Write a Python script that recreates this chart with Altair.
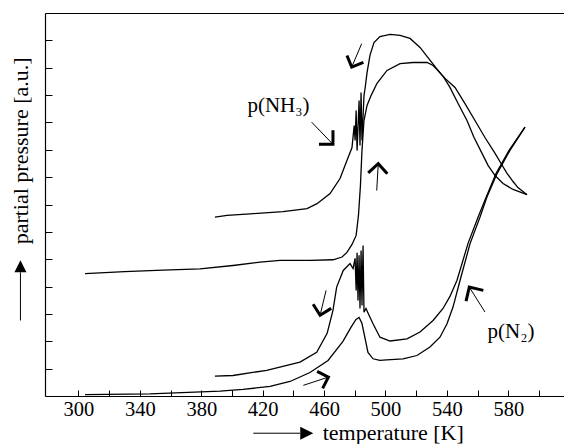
import altair as alt
import pandas as pd

# ---- data (temperature in K, partial pressure in a.u.) ----
nh3_heat_T = [304.3, 330.0, 355.0, 379.2, 400.7, 418.3, 431.3, 450.8, 465.8, 471.7, 474.9, 478.2,
              480.9, 482.4, 483.7, 484.7, 486.0, 488.0, 490.6, 494.5, 501.0, 509.5, 517.9, 527.1,
              531.0, 534.2, 538.8, 545.3, 551.8, 558.3, 564.8, 571.4, 575.3, 579.2, 583.1, 586.3, 592.2]
nh3_heat_p = [4.47, 4.55, 4.60, 4.65, 4.77, 4.89, 4.96, 4.96, 4.98, 5.08, 5.25, 5.54,
              5.87, 6.60, 7.70, 8.98, 10.07, 10.62, 10.98, 11.43, 11.90, 12.15, 12.19, 12.19,
              12.08, 11.90, 11.61, 11.28, 10.69, 10.07, 9.45, 8.87, 8.50, 8.14, 7.84, 7.62, 7.36]

nh3_cool_T = [592.2, 583.1, 576.6, 571.4, 566.8, 562.9, 557.7, 553.1, 547.3, 542.0, 538.1, 534.2,
              527.7, 522.5, 516.0, 509.5, 503.0, 496.4, 492.5, 489.9, 488.0, 486.7, 486.0, 484.7,
              484.1, 483.4, 482.8, 481.5, 480.9, 480.2, 479.6, 478.2, 474.9, 470.4, 463.9, 455.4,
              448.9, 433.2, 411.8, 396.8, 388.9]
nh3_cool_p = [7.36, 7.55, 7.77, 8.06, 8.43, 8.87, 9.45, 10.07, 10.69, 11.28, 11.64, 11.90,
              12.37, 12.74, 13.07, 13.18, 13.22, 13.14, 12.92, 12.45, 11.82, 11.24, 10.98, 9.34,
              11.09, 9.16, 10.80, 8.97, 10.44, 9.34, 9.89, 9.08, 8.61, 7.95, 7.40, 7.03,
              6.85, 6.74, 6.66, 6.60, 6.54]

n2_heat_T = [304.3, 346.6, 392.2, 407.2, 424.8, 437.8, 450.8, 462.6, 472.3, 477.5, 480.8, 482.8,
             484.7, 486.7, 488.6, 491.9, 496.4, 500.8, 511.4, 520.5, 529.0, 535.5, 540.1, 544.0,
             548.6, 555.1, 561.6, 566.1, 572.7, 581.1, 590.9]
n2_heat_p = [0.05, 0.08, 0.18, 0.24, 0.35, 0.53, 0.86, 1.30, 2.00, 2.51, 2.80, 2.87,
             2.65, 2.11, 1.59, 1.36, 1.30, 1.32, 1.36, 1.48, 1.79, 2.15, 2.64, 3.25,
             4.23, 5.57, 6.54, 7.27, 8.13, 8.98, 9.83]

n2_cool_T = [590.9, 580.5, 572.0, 565.5, 560.3, 553.8, 546.6, 542.0, 537.5, 531.0, 522.5, 514.0,
             503.0, 496.4, 491.9, 489.9, 487.3, 486.0, 485.4, 484.7, 484.1, 483.4, 482.8, 482.1,
             481.5, 480.9, 480.2, 478.9, 476.9, 472.5, 468.2, 465.8, 462.0, 455.2, 444.3, 422.6,
             400.7, 388.9]
n2_cool_p = [9.83, 8.98, 8.13, 7.26, 6.53, 5.58, 4.23, 3.64, 3.20, 2.76, 2.34, 2.09,
             2.01, 2.15, 2.64, 2.88, 3.20, 3.06, 5.50, 3.31, 5.32, 3.20, 5.14, 3.49,
             5.24, 3.86, 5.03, 4.66, 4.84, 4.59, 3.98, 3.13, 2.29, 1.60, 1.24, 0.94,
             0.75, 0.73]

# direction arrows (tail -> tip), in data units
arrow_tail_T = [451.9, 484.5, 494.3, 461.3, 446.5, 564.8]
arrow_tail_p = [10.01, 12.88, 7.51, 3.86, 0.39, 3.07]
arrow_tip_T = [465.8, 478.0, 495.3, 457.4, 462.8, 554.6]
arrow_tip_p = [9.20, 12.02, 8.49, 2.95, 0.69, 3.98]
arrow_angle = [135, 203, 3, 193, 72, 328]
arrow_size = [800, 650, 750, 700, 650, 850]

label_text = ["p(NH₃)", "p(N₂)"]
label_T = [430.3, 581.8]
label_p = [10.38, 2.12]

x_label_values = [300, 340, 380, 420, 460, 500, 540, 580]
x_tick_values = list(range(300, 620, 20))
y_tick_values = list(range(1, 14))
x_domain = [278.2, 616.3]
y_domain = [0, 14]

W, H = 519, 383
FONT = "Liberation Serif"

# ---- tables ----
rows = []
for name, Ts, ps in [("NH3 heat", nh3_heat_T, nh3_heat_p), ("NH3 cool", nh3_cool_T, nh3_cool_p),
                     ("N2 heat", n2_heat_T, n2_heat_p), ("N2 cool", n2_cool_T, n2_cool_p)]:
    for i, (t, p) in enumerate(zip(Ts, ps)):
        rows.append({"series": name, "i": i, "T": t, "p": p})
curves = pd.DataFrame(rows)

arrows = pd.DataFrame({"T": arrow_tail_T, "p": arrow_tail_p, "T2": arrow_tip_T, "p2": arrow_tip_p,
                       "ang": arrow_angle, "size": arrow_size})
labels = pd.DataFrame({"text": label_text, "T": label_T, "p": label_p})

# axis-title arrows (outside the plot area)
title_shafts = pd.DataFrame({"T": [413.9, 262.2], "p": [-1.36, 2.76],
                             "T2": [444.3, 262.2], "p2": [-1.36, 4.52]})
title_heads = pd.DataFrame({"T": [448.7, 262.2], "p": [-1.36, 4.74],
                            "shape": ["M1,0L-1,-1L-1,1Z", "M0,-1L1,1L-1,1Z"],
                            "size": [169, 144]})
titles = pd.DataFrame({"text": ["temperature [K]"], "T": [459.1], "p": [-1.62]})
ytitle = pd.DataFrame({"text": ["partial pressure [a.u.]"], "T": [262.6], "p": [8.96]})

xs = alt.Scale(domain=x_domain, nice=False, zero=False)
ys = alt.Scale(domain=y_domain, nice=False, zero=False)

axis_bottom = alt.Axis(orient="bottom", values=x_label_values, ticks=False, domain=True,
                       domainColor="black", domainWidth=1.2, labelFont=FONT, labelFontSize=20.5,
                       labelColor="black", labelPadding=3, grid=False, title=None,
                       labelFlush=False, labelOverlap=False)
axis_left = alt.Axis(orient="left", labels=False, ticks=False, domain=True, domainColor="black",
                     domainWidth=1.2, grid=False, title=None)
axis_xticks = alt.Axis(orient="top", offset=-H, values=x_tick_values, ticks=True, tickSize=6,
                       tickColor="black", tickWidth=1, labels=False, domain=False, grid=False,
                       title=None)
axis_yticks = alt.Axis(orient="right", offset=-W, values=y_tick_values, ticks=True, tickSize=7,
                       tickColor="black", tickWidth=1, labels=False, domain=False, grid=False,
                       title=None)
axis_top = alt.Axis(orient="top", ticks=False, labels=False, domain=True, domainColor="black",
                    domainWidth=1.2, grid=False, title=None)

lines = alt.Chart(curves).mark_line(color="black", strokeWidth=1.3).encode(
    x=alt.X("T:Q", scale=xs, axis=axis_bottom),
    y=alt.Y("p:Q", scale=ys, axis=axis_left),
    detail="series:N",
    order="i:Q",
)

shafts = alt.Chart(arrows).mark_rule(color="black", strokeWidth=1).encode(
    x=alt.X("T:Q", scale=xs, axis=axis_xticks),
    y=alt.Y("p:Q", scale=ys, axis=axis_yticks),
    x2="T2:Q", y2="p2:Q",
)

heads = alt.Chart(arrows).mark_point(
    shape="M-0.7,0.7L0,0L0.7,0.7", filled=False, color="black", strokeWidth=3,
    strokeJoin="miter", opacity=1,
).encode(
    x=alt.X("T2:Q", scale=xs, axis=axis_top),
    y=alt.Y("p2:Q", scale=ys, axis=None),
    angle=alt.Angle("ang:Q", scale=None),
    size=alt.Size("size:Q", scale=None, legend=None),
)

lab = alt.Chart(labels).mark_text(font=FONT, fontSize=21, color="black", align="center",
                                  baseline="alphabetic").encode(
    x=alt.X("T:Q", scale=xs, axis=None), y=alt.Y("p:Q", scale=ys, axis=None), text="text:N")

tshafts = alt.Chart(title_shafts).mark_rule(color="black", strokeWidth=1).encode(
    x=alt.X("T:Q", scale=xs, axis=None), y=alt.Y("p:Q", scale=ys, axis=None),
    x2="T2:Q", y2="p2:Q")

theads = alt.Chart(title_heads).mark_point(filled=True, color="black", opacity=1).encode(
    x=alt.X("T:Q", scale=xs, axis=None), y=alt.Y("p:Q", scale=ys, axis=None),
    shape=alt.Shape("shape:N", scale=None, legend=None),
    size=alt.Size("size:Q", scale=None, legend=None))

xtitle = alt.Chart(titles).mark_text(font=FONT, fontSize=22, color="black", align="left",
                                     baseline="alphabetic").encode(
    x=alt.X("T:Q", scale=xs, axis=None), y=alt.Y("p:Q", scale=ys, axis=None), text="text:N")

ytitle_m = alt.Chart(ytitle).mark_text(font=FONT, fontSize=22, color="black", align="center",
                                       baseline="middle", angle=270).encode(
    x=alt.X("T:Q", scale=xs, axis=None), y=alt.Y("p:Q", scale=ys, axis=None), text="text:N")

chart = alt.layer(lines, shafts, heads, lab, tshafts, theads, xtitle, ytitle_m).resolve_axis(
    x="independent", y="independent"
).properties(
    width=W, height=H,
    autosize=alt.AutoSizeParams(type="none"),
    padding={"left": 37, "top": 5, "right": 0, "bottom": 48},
    background="white",
).configure_view(stroke=None)

chart.save("out.html", embed_options={"renderer": "svg", "actions": False})
